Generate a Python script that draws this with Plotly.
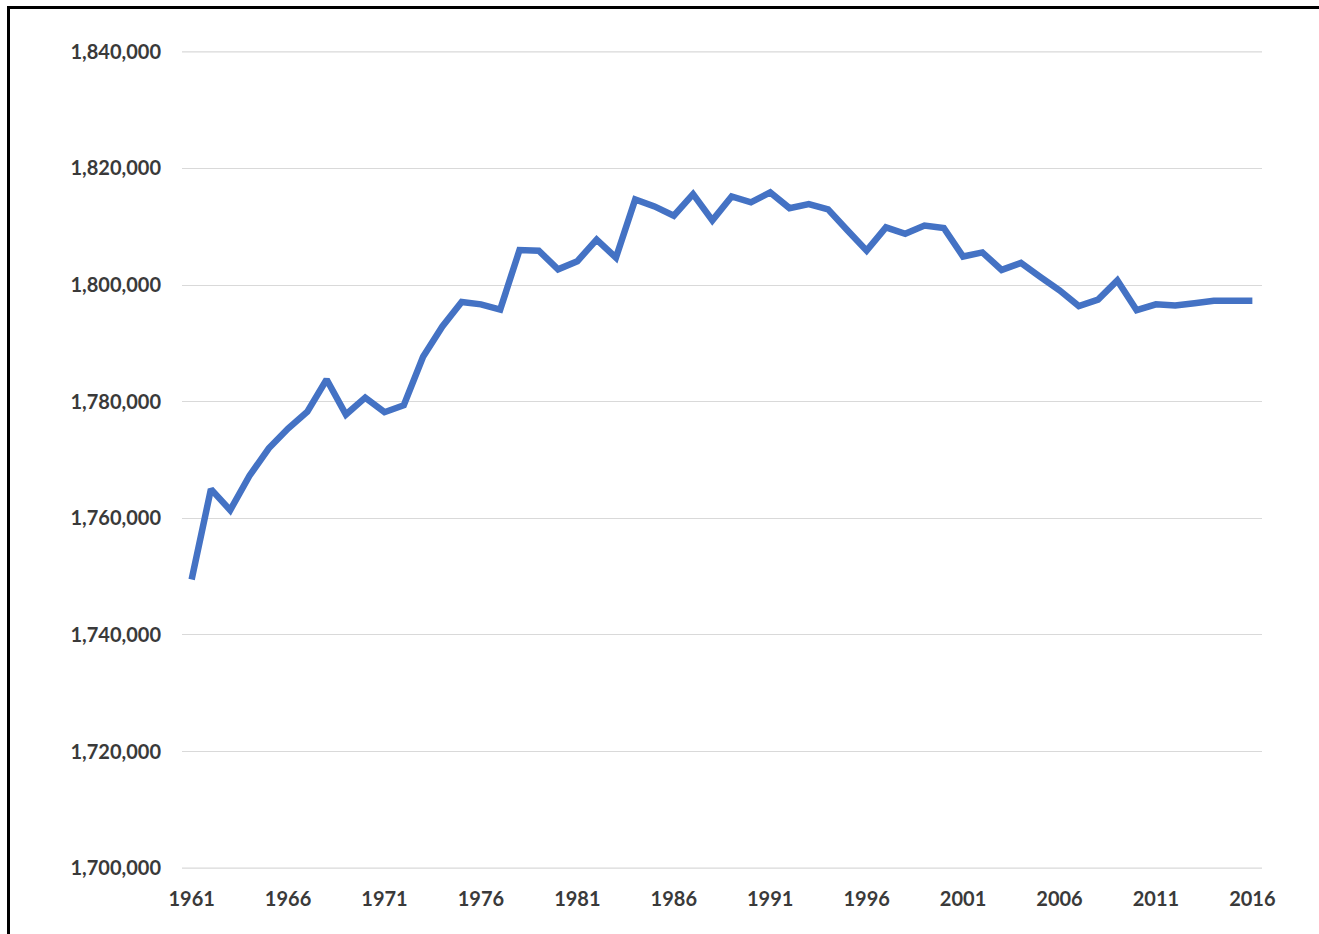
import plotly.graph_objects as go

years = list(range(1961, 2017))
values = [
    1749500, 1765000, 1761400, 1767300, 1772000, 1775400, 1778300, 1783800,
    1777800, 1780700, 1778200, 1779400, 1787700, 1792900, 1797100, 1796700,
    1795800, 1806000, 1805900, 1802700, 1804100, 1807800, 1804700, 1814700,
    1813500, 1811900, 1815600, 1811100, 1815200, 1814200, 1815900, 1813200,
    1813900, 1813000, 1809400, 1805900, 1809900, 1808800, 1810200, 1809800,
    1804900, 1805600, 1802600, 1803800, 1801400, 1799100, 1796400, 1797500,
    1800800, 1795700, 1796700, 1796500, 1796900, 1797300, 1797300, 1797300,
]
x_ticks = [1961, 1966, 1971, 1976, 1981, 1986, 1991, 1996, 2001, 2006, 2011, 2016]
y_ticks = [1700000, 1720000, 1740000, 1760000, 1780000, 1800000, 1820000, 1840000]

W, H = 1319, 934
L, R, T, B = 182, 57, 51, 65
pw, ph = W - L - R, H - T - B

def px_to_paper_x(px):
    return (px - L) / pw

def py_to_paper_y(py):
    return (H - B - py) / ph

GRID = "#d9d9d9"

fig = go.Figure()
fig.add_trace(go.Scatter(
    x=years, y=values, mode="lines",
    line=dict(color="#4472C4", width=6.5, shape="linear"),
    hoverinfo="x+y", showlegend=False,
))

font = dict(family="Lato, 'Open Sans', sans-serif", size=20, color="#3a3a3a")

# edge gridlines (plotly hides gridlines sitting right on the range ends)
edge_lines = [
    dict(type="line", xref="paper", yref="y", x0=0, x1=1, y0=v, y1=v,
         line=dict(color=GRID, width=1.2), layer="below")
    for v in (y_ticks[0], y_ticks[-1])
]

frame = dict(
    type="rect", xref="paper", yref="paper",
    x0=px_to_paper_x(8.5), x1=px_to_paper_x(1400),
    y0=py_to_paper_y(980), y1=py_to_paper_y(7.5),
    line=dict(color="black", width=3), fillcolor="rgba(0,0,0,0)",
    layer="above",
)

fig.update_layout(
    width=W, height=H,
    margin=dict(l=L, r=R, t=T, b=B, pad=0),
    paper_bgcolor="white", plot_bgcolor="white",
    xaxis=dict(
        range=[1960.5, 2016.5],
        tickvals=x_ticks,
        ticktext=[f"<b>{y}</b>" for y in x_ticks],
        showgrid=False, zeroline=False,
        showline=False, ticks="",
        tickfont=font, ticklabelstandoff=16,
        fixedrange=True,
    ),
    yaxis=dict(
        range=[1699850, 1840150],
        tickvals=y_ticks,
        ticktext=[f"<b>{v:,}</b>" for v in y_ticks],
        showgrid=True, gridcolor=GRID, gridwidth=1.2,
        zeroline=False, showline=False, ticks="",
        tickfont=font, ticklabelstandoff=20,
        fixedrange=True,
    ),
    shapes=edge_lines + [frame],
)

fig.write_html(
    "out.html",
    config={"displayModeBar": False},
    post_script="document.body.style.margin='0px';document.body.style.overflow='hidden';",
)
